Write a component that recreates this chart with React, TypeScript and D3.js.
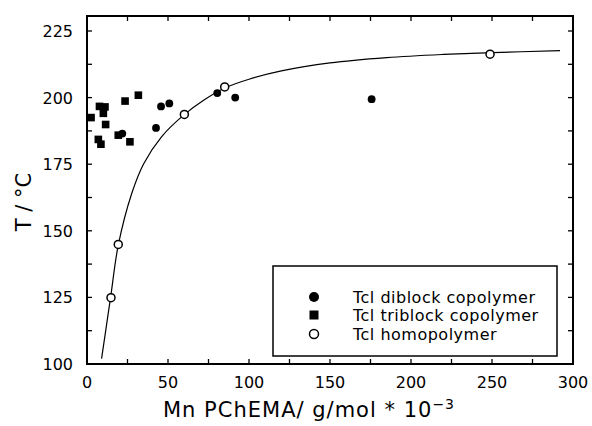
import React from "react";
import * as d3 from "d3";

const diblock: [number, number][] = [
  [21.8, 186.5], [42.6, 188.6], [45.7, 196.7], [50.8, 197.8],
  [80.4, 201.7], [91.5, 200.0], [175.7, 199.4],
];
const triblock: [number, number][] = [
  [2.5, 192.5], [7.7, 196.7], [11.1, 196.5], [10.1, 194.1], [11.5, 189.9],
  [7.0, 184.3], [8.6, 182.5], [19.3, 185.9], [23.5, 198.7], [26.5, 183.4], [31.7, 200.9],
];
const homopolymer: [number, number][] = [
  [14.8, 124.9], [19.3, 144.9], [60.1, 193.7], [85.0, 204.0], [248.8, 216.3],
];
const fitCurve: [number, number][] = [
  [9.0, 102.0], [14.6, 125.2], [19.3, 144.6], [27.6, 164.0], [35.0, 175.2],
  [46.0, 185.3], [60.0, 193.6], [72.0, 199.0], [85.0, 203.6], [100.0, 206.9],
  [120.0, 210.0], [150.0, 213.0], [185.0, 215.0], [220.0, 216.2], [250.0, 216.9], [292.0, 217.6],
];
const xTicks = [0, 50, 100, 150, 200, 250, 300];
const yTicks = [100, 125, 150, 175, 200, 225];
const legendLabels = ["Tcl diblock copolymer", "Tcl triblock copolymer", "Tcl homopolymer"];

const L = 87, R = 573, T = 16, B = 364;
const FONT = "'DejaVu Sans', sans-serif";

export default function App() {
  const x = d3.scaleLinear().domain([0, 300]).range([L, R]);
  const y = d3.scaleLinear().domain([100, 225]).range([B, 31]);
  const minorX = d3.range(0, 301, 25);
  const minorY = d3.range(100, 226, 12.5);
  const line = d3.line<[number, number]>().x(d => x(d[0])).y(d => y(d[1])).curve(d3.curveCatmullRom.alpha(0.5));
  const tl = 5;
  const lx = 314, ly = [297, 315, 334];
  return (
    <svg width={592} height={426} style={{ position: "absolute", left: 0, top: 0, background: "#fff" }}>
      <rect x={0} y={0} width={592} height={426} fill="#fff" />
      {minorX.map(v => (
        <g key={"tx" + v}>
          <line x1={x(v)} x2={x(v)} y1={B} y2={B - tl} stroke="#000" strokeWidth={1.3} />
          <line x1={x(v)} x2={x(v)} y1={T} y2={T + tl} stroke="#000" strokeWidth={1.3} />
        </g>
      ))}
      {minorY.map(v => (
        <g key={"ty" + v}>
          <line x1={L} x2={L + tl} y1={y(v)} y2={y(v)} stroke="#000" strokeWidth={1.3} />
          <line x1={R} x2={R - tl} y1={y(v)} y2={y(v)} stroke="#000" strokeWidth={1.3} />
        </g>
      ))}
      <rect x={L} y={T} width={R - L} height={B - T} fill="none" stroke="#000" strokeWidth={2} />
      {xTicks.map(v => (
        <text key={"lx" + v} x={x(v)} y={388} textAnchor="middle" fontFamily={FONT} fontSize={16} fill="#000">{v}</text>
      ))}
      {yTicks.map(v => (
        <text key={"ly" + v} x={73} y={y(v) + 6} textAnchor="end" fontFamily={FONT} fontSize={16} fill="#000">{v}</text>
      ))}
      <text x={163} y={417} fontFamily={FONT} fontSize={21} letterSpacing={1} fill="#000">
        Mn PChEMA/ g/mol * 10<tspan dy={-8} fontSize={14}>−3</tspan>
      </text>
      <text transform="translate(31,202) rotate(-90)" textAnchor="middle" fontFamily={FONT} fontSize={21} fill="#000">T / °C</text>
      <path d={line(fitCurve) || ""} fill="none" stroke="#000" strokeWidth={1.2} />
      {triblock.map((d, i) => (
        <rect key={"s" + i} x={x(d[0]) - 3.8} y={y(d[1]) - 3.8} width={7.6} height={7.6} fill="#000" />
      ))}
      {diblock.map((d, i) => (
        <circle key={"c" + i} cx={x(d[0])} cy={y(d[1])} r={3.9} fill="#000" />
      ))}
      {homopolymer.map((d, i) => (
        <circle key={"o" + i} cx={x(d[0])} cy={y(d[1])} r={4} fill="#fff" stroke="#000" strokeWidth={1.5} />
      ))}
      <rect x={273} y={266} width={284} height={90} fill="#fff" stroke="#000" strokeWidth={1.5} />
      <circle cx={lx} cy={ly[0]} r={5} fill="#000" />
      <rect x={lx - 4.5} y={ly[1] - 4.5} width={9} height={9} fill="#000" />
      <circle cx={lx} cy={ly[2]} r={4.5} fill="#fff" stroke="#000" strokeWidth={1.5} />
      {legendLabels.map((t, i) => (
        <text key={t} x={353} y={ly[i] + 6} fontFamily={FONT} fontSize={16} letterSpacing={0.5} fill="#000">{t}</text>
      ))}
    </svg>
  );
}
